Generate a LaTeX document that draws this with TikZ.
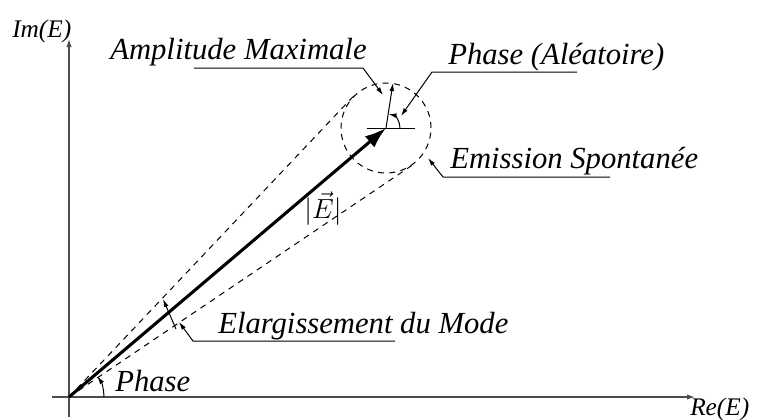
\documentclass[tikz,border=0pt]{standalone}
\usepackage{fontspec}
\setmainfont{Liberation Serif}
\usetikzlibrary{arrows.meta,calc}

\begin{document}
\begin{tikzpicture}[x=0.75pt, y=-0.75pt,
  every node/.style={font=\fontsize{23}{27}\selectfont\itshape, inner sep=0pt},
  axisfont/.style={font=\fontsize{19}{23}\selectfont\itshape},
  axisline/.style={-{Latex[length=6pt,width=4pt]}, line width=0.9pt, color=black!70},
  lead/.style={-{Latex[length=6pt,width=3.5pt]}, line width=0.75pt},
  guide/.style={dash pattern=on 4.5pt off 4pt, line width=0.75pt}]
  \useasboundingbox (0,0) rectangle (758,419);
  % axes
  \coordinate (O) at (69,397);
  \coordinate (xs) at (52,397);
  \coordinate (xe) at (695,397);
  \coordinate (ys) at (69,417);
  \coordinate (ye) at (69,39);
  \draw[axisline] (xs) -- (xe);
  \draw[axisline] (ys) -- (ye);
  \node[axisfont, anchor=base west] (re) at (690,415) {Re(E)};
  \node[axisfont, anchor=base west] (im) at (12,37) {Im(E)};
  % vector and noise circle
  \coordinate (tip) at (386,128);
  \node[circle, draw, guide, minimum size=67.5pt] (spont) at (tip) {};
  \draw[guide] (O) -- (tangent cs:node=spont,point={(O)},solution=1);
  \draw[guide] (O) -- (tangent cs:node=spont,point={(O)},solution=2);
  \draw[-{Latex[length=16pt,width=11pt]}, line width=2.3pt] (O) -- (tip);
  \node[font=\fontsize{20}{24}\selectfont] (norm) at (323,209) {$|\vec{E}|$};
  \draw[line width=0.75pt] ($(tip)+(-19,0)$) -- ($(tip)+(29,0)$);
  \coordinate (amp) at (393,83);
  \draw[lead] (tip) -- (amp);
  \draw[lead] ($(tip)+(14,0)$) arc[start angle=0, end angle=-80, radius=14];
  \draw[lead] ($(O)+(35,0)$) arc[start angle=0, end angle=-36, radius=35];
  % labels
  \node[anchor=base west] (amptxt) at (110,59) {Amplitude Maximale};
  \node[anchor=base west] (phatxt) at (448,64) {Phase (Aléatoire)};
  \node[anchor=base west] (emitxt) at (450,168) {Emission Spontanée};
  \node[anchor=base west] (elatxt) at (218,333) {Elargissement du Mode};
  \node[anchor=base west] (phitxt) at (115,391) {Phase};
  \coordinate (ampA) at (194,68);
  \coordinate (ampB) at (363,68);
  \coordinate (ampC) at (383,95);
  \draw[lead] (ampA) -- (ampB) -- (ampC);
  \coordinate (phaA) at (577,72);
  \coordinate (phaB) at (432,72);
  \coordinate (phaC) at (401,116);
  \draw[lead] (phaA) -- (phaB) -- (phaC);
  \coordinate (emiA) at (610,177);
  \coordinate (emiB) at (443,177);
  \coordinate (emiC) at (428,158);
  \draw[lead] (emiA) -- (emiB) -- (emiC);
  \coordinate (elaA) at (395,341);
  \coordinate (elaB) at (193,341);
  \coordinate (elaC) at (179,322);
  \draw[lead] (elaA) -- (elaB) -- (elaC);
  \coordinate (wlo) at (176,329);
  \coordinate (whi) at (163,299);
  \draw[lead] (wlo) -- (whi);
\end{tikzpicture}
\end{document}
